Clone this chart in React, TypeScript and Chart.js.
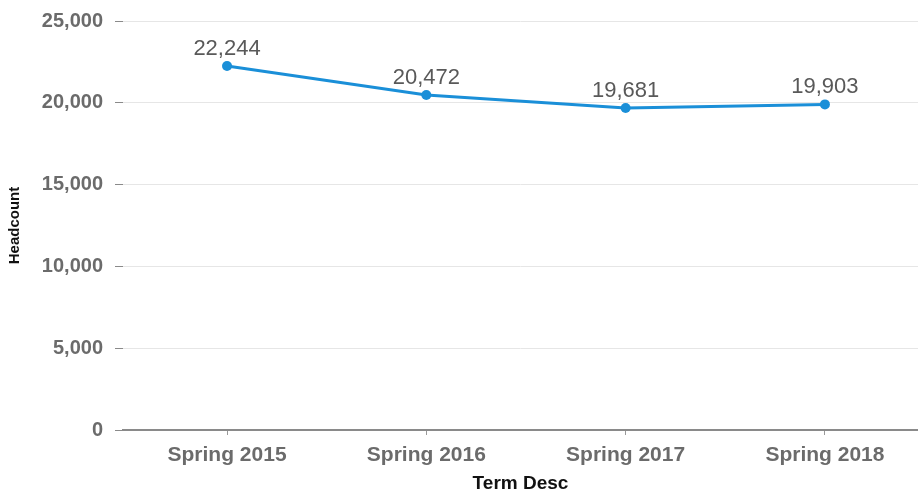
import React, { useEffect, useRef } from "react";
import { Chart, registerables } from "chart.js";

Chart.register(...registerables);

const categories = ["Spring 2015", "Spring 2016", "Spring 2017", "Spring 2018"];
const headcount = [22244, 20472, 19681, 19903];
const yTicks = [0, 5000, 10000, 15000, 20000, 25000];

const FONT = '"Liberation Sans", Arial, Helvetica, sans-serif';

const fmt = (v: number) => v.toLocaleString("en-US");

const pointLabels = {
  id: "pointLabels",
  afterDatasetsDraw(chart: any) {
    const ctx = chart.ctx;
    const meta = chart.getDatasetMeta(0);
    ctx.save();
    ctx.font = `22px ${FONT}`;
    ctx.fillStyle = "#595959";
    ctx.textAlign = "center";
    ctx.textBaseline = "alphabetic";
    meta.data.forEach((pt: any, i: number) => {
      ctx.fillText(fmt(headcount[i]), pt.x, pt.y - 11);
    });
    ctx.restore();
  },
};

export default function App() {
  const ref = useRef<HTMLCanvasElement | null>(null);

  useEffect(() => {
    if (!ref.current) return;
    const chart = new Chart(ref.current, {
      type: "line",
      data: {
        datasets: [
          {
            data: headcount.map((v, i) => ({ x: i, y: v })),
            borderColor: "#1a8fd8",
            backgroundColor: "#1a8fd8",
            borderWidth: 3,
            pointRadius: 5,
            pointBackgroundColor: "#1a8fd8",
            pointBorderWidth: 0,
            tension: 0,
          },
        ],
      },
      plugins: [pointLabels],
      options: {
        animation: false,
        responsive: false,
        layout: { autoPadding: false, padding: { left: 7.5, top: 21, right: 0, bottom: 0 } },
        plugins: { legend: { display: false }, tooltip: { enabled: false } },
        scales: {
          x: {
            type: "linear",
            min: -0.522,
            max: 3.467,
            afterFit: (s: any) => {
              s.height = 63;
              s.paddingLeft = 0;
              s.paddingRight = 0;
            },
            afterBuildTicks: (s: any) => {
              s.ticks = categories.map((_, i) => ({ value: i }));
            },
            ticks: {
              stepSize: 1,
              includeBounds: false,
              callback: (v: any) => categories[Math.round(Number(v))] ?? "",
              font: { family: FONT, size: 21, weight: "bold" },
              color: "#6b6b6b",
              padding: 8,
              maxRotation: 0,
            },
            grid: {
              drawOnChartArea: false,
              drawTicks: true,
              tickLength: 5,
              tickColor: "#999",
            },
            border: { display: true, color: "#8a8a8a", width: 2 },
            title: {
              display: true,
              text: "Term Desc",
              color: "#111",
              font: { family: FONT, size: 19, weight: "bold", lineHeight: 1 },
              padding: { top: 0, bottom: 0 },
            },
          },
          y: {
            min: 0,
            max: 25000,
            afterFit: (s: any) => {
              s.width = 115.5;
              s.paddingTop = 0;
              s.paddingBottom = 0;
            },
            afterBuildTicks: (s: any) => {
              s.ticks = yTicks.map((v) => ({ value: v }));
            },
            ticks: {
              stepSize: 5000,
              callback: (v: any) => fmt(Number(v)),
              font: { family: FONT, size: 20, weight: "bold" },
              color: "#6b6b6b",
              padding: 12,
            },
            grid: {
              color: "#e6e6e6",
              lineWidth: 1,
              drawTicks: true,
              tickLength: 8,
              tickColor: "#8a8a8a",
            },
            border: { display: false },
            title: {
              display: true,
              text: "Headcount",
              color: "#111",
              font: { family: FONT, size: 15, weight: "bold", lineHeight: 1 },
              padding: { top: 0, bottom: 0 },
            },
          },
        },
      },
    });
    return () => chart.destroy();
  }, []);

  return (
    <div style={{ position: "absolute", left: 0, top: 0, width: 918, height: 493, background: "#fff" }}>
      <canvas ref={ref} width={918} height={493} style={{ display: "block" }} />
    </div>
  );
}
